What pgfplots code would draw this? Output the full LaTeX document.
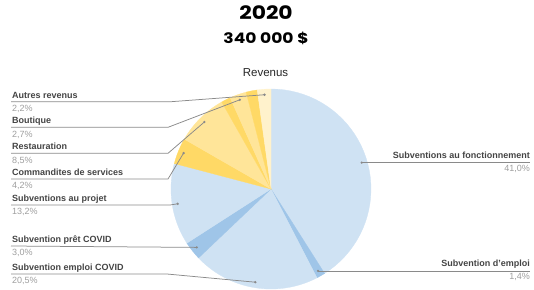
\documentclass[border=0pt]{standalone}
\usepackage{pgfplots}
\usepackage{pgfplotstable}
\pgfplotsset{compat=1.18}
\usepackage{fontspec}
\setmainfont{Liberation Sans}
\newfontfamily\titlefont[FakeStretch=1.18]{Poppins}
\definecolor{blueL}{HTML}{CFE2F3}
\definecolor{blueD}{HTML}{9FC5E8}
\definecolor{yel}{HTML}{FFD966}
\definecolor{yelL}{HTML}{FFE599}
\definecolor{cream}{HTML}{FFF2CC}
\definecolor{labc}{HTML}{444444}
\definecolor{pctc}{HTML}{9E9E9E}
\definecolor{linec}{HTML}{8A8A8A}

% slices clockwise from 12 o'clock
\pgfplotstableread{
value col
41.0 blueL
1.4  blueD
20.5 blueL
3.0  blueD
13.2 blueL
4.2  yel
8.5  yelL
1.5  yel
2.7  yelL
1.8  yel
2.2  cream
}\pie

\begin{document}
\begin{tikzpicture}
\begin{scope}[x=1pt,y=-1pt]
\useasboundingbox (0,0) rectangle (534,286);
\end{scope}
\begin{axis}[at={(271pt,-189pt)}, anchor=center, scale only axis,
  width=200pt, height=200pt, xmin=-1, xmax=1, ymin=-1, ymax=1,
  hide axis, clip=false]
\xdef\cum{0}
\pgfplotsforeachungrouped \i in {0,...,10}{%
  \pgfplotstablegetelem{\i}{value}\of\pie \let\v\pgfplotsretval
  \pgfplotstablegetelem{\i}{col}\of\pie \let\c\pgfplotsretval
  \pgfmathsetmacro\a{\cum*3.6}%
  \pgfmathsetmacro\b{(\cum+\v)*3.6}%
  \pgfmathsetmacro\m{(\a+\b)/2}%
  \pgfmathsetmacro\dx{0.945*sin(\m)}%
  \pgfmathsetmacro\dy{0.945*cos(\m)}%
  \edef\cmd{\noexpand\addplot[fill=\c, draw=\c, line width=0.3pt, domain=\a:\b, samples=40] ({sin(x)},{cos(x)}) -- (axis cs:0,0) -- cycle;
    \noexpand\coordinate (d\i) at (axis cs:\dx,\dy);}%
  \cmd
  \pgfmathsetmacro\cum{\cum+\v}\xdef\cum{\cum}%
}
\end{axis}
\begin{scope}[x=1pt,y=-1pt]
% titles
\node[anchor=base, font=\titlefont\bfseries\fontsize{18.5}{22}\selectfont, inner sep=0] at (266,19.3) {2020};
\node[anchor=base, font=\titlefont\bfseries\fontsize{14.5}{17}\selectfont, inner sep=0] at (266,43.3) {340 000 \$};
\node[anchor=base, font=\fontsize{11.5}{13}\selectfont, text=black!85, inner sep=0] at (265.5,76.6) {Revenus};
\tikzset{lab/.style={anchor=base west, inner sep=0, font=\bfseries\fontsize{9}{10}\selectfont, text=labc},
  pct/.style={anchor=base west, inner sep=0, font=\fontsize{9}{10}\selectfont, text=pctc},
  labr/.style={lab, anchor=base east}, pctr/.style={pct, anchor=base east},
  lead/.style={draw=linec, line width=0.75pt}}
% left labels
\node[lab] at (12,98.3) {Autres revenus};
\node[pct] at (12,111.5) {2,2\%};
\draw[lead] (11,101.7) -- (171,101.7) -- (d10);
\node[lab] at (12,123.8) {Boutique};
\node[pct] at (12,137.2) {2,7\%};
\draw[lead] (11,127.3) -- (168,127.3) -- (d8);
\node[lab] at (12,149.8) {Restauration};
\node[pct] at (12,163.2) {8,5\%};
\draw[lead] (11,153.3) -- (168,153.3) -- (d6);
\node[lab] at (12,175.5) {Commandites de services};
\node[pct] at (12,188.9) {4,2\%};
\draw[lead] (11,179) -- (168,179) -- (d5);
\node[lab] at (12,201.5) {Subventions au projet};
\node[pct] at (12,214.9) {13,2\%};
\draw[lead] (11,205) -- (170,205) -- (d4);
\node[lab] at (12,242.5) {Subvention prêt COVID};
\node[pct] at (12,255.9) {3,0\%};
\draw[lead] (11,246) -- (d3);
\node[lab] at (12,270.5) {Subvention emploi COVID};
\node[pct] at (12,283.9) {20,5\%};
\draw[lead] (11,274) -- (167,274) -- (d2);
% right labels
\node[labr] at (530,158.2) {Subventions au fonctionnement};
\node[pctr] at (530,171.6) {41,0\%};
\draw[lead] (d0) -- (d0 -| 530,0);
\node[labr] at (530,266.5) {Subvention d'emploi};
\node[pctr] at (530,279.9) {1,4\%};
\draw[lead] (d1) -- (d1 -| 530,0);
% dots
\foreach \k in {0,1,2,3,4,5,6,8,10}{\fill[linec] (d\k) circle (1.3);}
\end{scope}
\end{tikzpicture}
\end{document}
